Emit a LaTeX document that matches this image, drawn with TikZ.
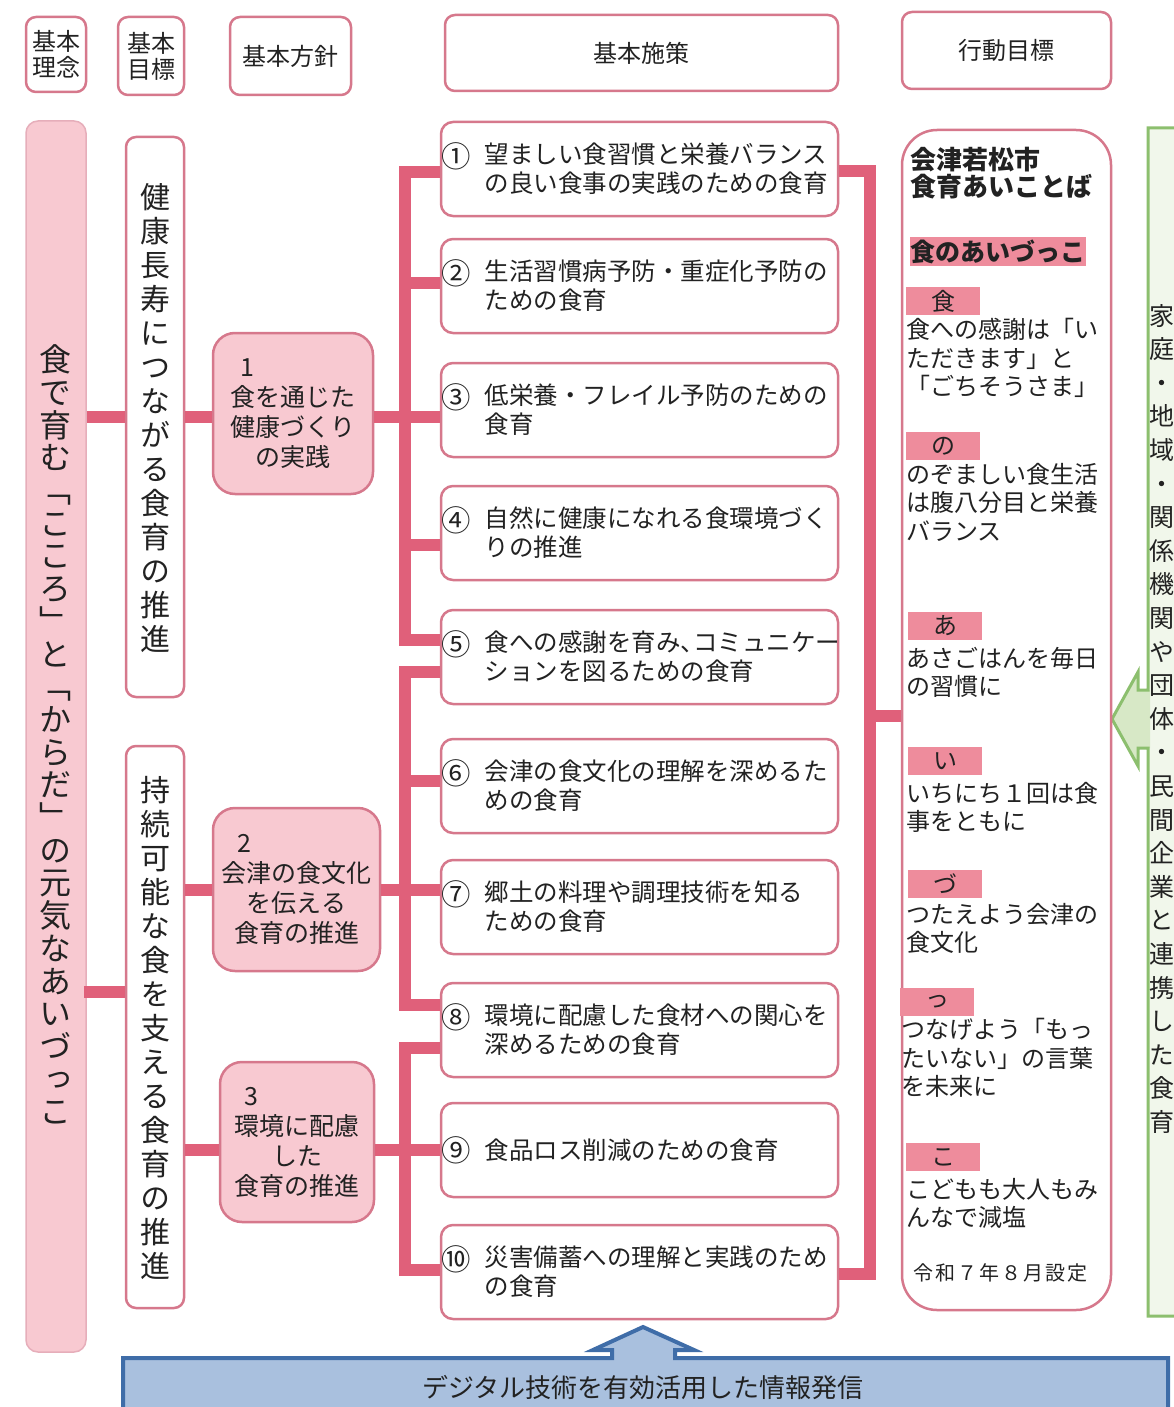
\documentclass[tikz,border=0pt]{standalone}
\usepackage{fontspec}
\setmainfont{Noto Sans CJK JP}
\newfontfamily\vjp[RawFeature=+vert]{Noto Sans CJK JP}
\usetikzlibrary{calc}
\definecolor{clc}{HTML}{E0607A}
\definecolor{pkb}{HTML}{D6788C}
\definecolor{pkf}{HTML}{F8C9D1}
\definecolor{lblc}{HTML}{EE8C9C}
\definecolor{grnb}{HTML}{8CBF6E}
\definecolor{grnf}{HTML}{F1F7EB}
\definecolor{grna}{HTML}{D7E8C6}
\definecolor{blub}{HTML}{3F6DA8}
\definecolor{bluf}{HTML}{A9C0DE}
\definecolor{txtc}{HTML}{222222}
\makeatletter
\newcommand\vtxt[2]{\vbox{\offinterlineskip\def\vt@gap{#1}\vt@loop#2\@nil}}
\def\vt@loop#1{\ifx\@nil#1\else\hbox to 1em{\hss\vrule width 0pt height .88em depth .12em\relax#1\hss}\kern\vt@gap\expandafter\vt@loop\fi}
\makeatother
\begin{document}
\begin{tikzpicture}[x=1pt,y=-1pt,
  every node/.style={text=txtc, inner sep=0pt},
  hdr/.style={draw=pkb, line width=2.5pt, rounded corners=10pt, fill=white, align=center, font=\fontsize{24}{26}\selectfont},
  sbox/.style={draw=pkb, line width=2.5pt, rounded corners=12pt, fill=white, minimum width=397pt, minimum height=94pt},
  mbox/.style={draw=pkb, line width=2.5pt, rounded corners=10pt, fill=white, minimum width=58pt},
  pol/.style={draw=pkb, line width=2.5pt, rounded corners=22pt, fill=pkf, align=center, font=\fontsize{25}{30}\selectfont},
  cl/.style={draw=clc, line width=12pt},
  num/.style={anchor=west, font=\fontsize{24.5}{24.5}\selectfont},
  stxt/.style={anchor=west, align=left, font=\fontsize{24.5}{29}\selectfont},
  lblbox/.style={fill=lblc, minimum width=74pt, minimum height=28pt, font=\fontsize{24}{24}\selectfont},
  para/.style={anchor=north west, align=left, font=\fontsize{24}{28.5}\selectfont}
]
\clip (0,0) rectangle (1174,1407);
\fill[white] (0,0) rectangle (1174,1407);

% headers
\node[hdr, minimum width=60pt, minimum height=75pt] (h1) at (56,54.5) {基本\\理念};
\node[hdr, minimum width=66pt, minimum height=78pt] (h2) at (151,56) {基本\\目標};
\node[hdr, minimum width=121pt, minimum height=78pt] (h3) at (290.5,56) {基本方針};
\node[hdr, minimum width=393pt, minimum height=76pt] (h4) at (641.5,53) {基本施策};
\node[hdr, minimum width=209pt, minimum height=77pt] (h5) at (1006.5,50.5) {行動目標};

% green box with arrow
\fill[grnf] (1190,128) -- (1148,128) -- (1148,690) -- (1138,690) -- (1138,672) -- (1112,719) -- (1138,766) -- (1138,748) -- (1148,748) -- (1148,1316) -- (1190,1316) -- cycle;
\fill[grna] (1150,690) -- (1138,690) -- (1138,672) -- (1112,719) -- (1138,766) -- (1138,748) -- (1150,748) -- cycle;
\draw[grnb, line width=3pt] (1190,128) -- (1148,128) -- (1148,690) -- (1138,690) -- (1138,672) -- (1112,719) -- (1138,766) -- (1138,748) -- (1148,748) -- (1148,1316) -- (1190,1316);
\node[font=\vjp\fontsize{25}{25}\selectfont] (gt) at (1162,723) {\vtxt{8.6pt}{家庭・地域・関係機関や団体・民間企業と連携した食育}};

% blue bar with arrow
\fill[bluf] (123,1420) -- (123,1358) -- (612,1358) -- (612,1350) -- (593,1350) -- (643,1327) -- (694,1350) -- (675,1350) -- (675,1358) -- (1168,1358) -- (1168,1420) -- cycle;
\draw[blub, line width=4pt] (123,1420) -- (123,1358) -- (612,1358) -- (612,1350) -- (593,1350) -- (643,1327) -- (694,1350) -- (675,1350) -- (675,1358) -- (1168,1358) -- (1168,1420);
\node[font=\fontsize{26}{26}\selectfont] (bt) at (643,1388) {デジタル技術を有効活用した情報発信};

% left column
\node[draw=pkb!60, line width=1.5pt, fill=pkf, rounded corners=12pt, minimum width=60pt, minimum height=1231pt] (lc) at (56,736.5) {};
\node[font=\vjp\fontsize{32}{32}\selectfont] (lct) at (55,736) {\vtxt{0.7pt}{食で育む「こころ」と「からだ」の元気なあいづっこ}};

% goal boxes
\node[mbox, minimum height=560pt] (m1) at (155,417) {};
\node[font=\vjp\fontsize{30}{30}\selectfont] (m1t) at (155,420) {\vtxt{4pt}{健康長寿につながる食育の推進}};
\node[mbox, minimum height=562pt] (m2) at (155,1027) {};
\node[font=\vjp\fontsize{30}{30}\selectfont] (m2t) at (155,1030) {\vtxt{4pt}{持続可能な食を支える食育の推進}};

% policy boxes
\node[pol, minimum width=160pt, minimum height=161pt] (p1) at (293,413.5) {\makebox[5em][l]{\hspace{0.4em}1}\\食を通じた\\健康づくり\\の実践};
\node[pol, minimum width=167pt, minimum height=163pt] (p2) at (296.5,889.5) {\makebox[5em][l]{\hspace{0.15em}2}\\会津の食文化\\を伝える\\食育の推進};
\node[pol, minimum width=154pt, minimum height=160pt] (p3) at (297,1142) {\makebox[5em][l]{\hspace{0.4em}3}\\環境に配慮\\した\\食育の推進};

% measure boxes
\node[sbox] (b1) at (639.5,169) {};
\node[sbox] (b2) at (639.5,286) {};
\node[sbox] (b3) at (639.5,410) {};
\node[sbox] (b4) at (639.5,533) {};
\node[sbox] (b5) at (639.5,657) {};
\node[sbox] (b6) at (639.5,786) {};
\node[sbox] (b7) at (639.5,907) {};
\node[sbox] (b8) at (639.5,1030) {};
\node[sbox] (b9) at (639.5,1150) {};
\node[sbox] (b10) at (639.5,1272) {};

\node[num] (b1n) at ([xshift=2pt,yshift=13pt]b1.west) {\scalebox{1.2}{①}};
\node[stxt] (b1t) at ([xshift=45pt]b1.west) {望ましい食習慣と栄養バランス\\の良い食事の実践のための食育};
\node[num] (b2n) at ([xshift=2pt,yshift=13pt]b2.west) {\scalebox{1.2}{②}};
\node[stxt] (b2t) at ([xshift=45pt]b2.west) {生活習慣病予防・重症化予防の\\ための食育};
\node[num] (b3n) at ([xshift=2pt,yshift=13pt]b3.west) {\scalebox{1.2}{③}};
\node[stxt] (b3t) at ([xshift=45pt]b3.west) {低栄養・フレイル予防のための\\食育};
\node[num] (b4n) at ([xshift=2pt,yshift=13pt]b4.west) {\scalebox{1.2}{④}};
\node[stxt] (b4t) at ([xshift=45pt]b4.west) {自然に健康になれる食環境づく\\りの推進};
\node[num] (b5n) at ([xshift=2pt,yshift=13pt]b5.west) {\scalebox{1.2}{⑤}};
\node[stxt] (b5t) at ([xshift=45pt]b5.west) {食への感謝を育み、\kern-0.5em コミュニケー\\ションを図るための食育};
\node[num] (b6n) at ([xshift=2pt,yshift=13pt]b6.west) {\scalebox{1.2}{⑥}};
\node[stxt] (b6t) at ([xshift=45pt]b6.west) {会津の食文化の理解を深めるた\\めの食育};
\node[num] (b7n) at ([xshift=2pt,yshift=13pt]b7.west) {\scalebox{1.2}{⑦}};
\node[stxt] (b7t) at ([xshift=45pt]b7.west) {郷土の料理や調理技術を知る\\ための食育};
\node[num] (b8n) at ([xshift=2pt,yshift=13pt]b8.west) {\scalebox{1.2}{⑧}};
\node[stxt] (b8t) at ([xshift=45pt]b8.west) {環境に配慮した食材への関心を\\深めるための食育};
\node[num] (b9n) at ([xshift=2pt]b9.west) {\scalebox{1.2}{⑨}};
\node[stxt] (b9t) at ([xshift=45pt]b9.west) {食品ロス削減のための食育};
\node[num] (b10n) at ([xshift=2pt,yshift=13pt]b10.west) {\scalebox{1.2}{⑩}};
\node[stxt] (b10t) at ([xshift=45pt]b10.west) {災害備蓄への理解と実践のため\\の食育};

% action column
\node[draw=pkb, line width=2.5pt, fill=white, rounded corners=35pt, minimum width=209pt, minimum height=1180pt] (ac) at (1006.5,720) {};
\node[para, font=\bfseries\fontsize{26}{27}\selectfont] (a0) at (910,147) {会津若松市\\食育あいことば};
\node[fill=lblc, minimum width=176pt, minimum height=29pt, font=\bfseries\fontsize{25}{25}\selectfont] (a1) at (998,251.5) {食のあいづっこ};

\node[lblbox] (l1) at (943,301) {\raisebox{-2pt}{食}};
\node[para] (t1) at (906,318) {食への感謝は「い\\ただきます」と\\「ごちそうさま」};
\node[lblbox] (l2) at (943,446) {\raisebox{-2pt}{の}};
\node[para] (t2) at (906,463) {のぞましい食生活\\は腹八分目と栄養\\バランス};
\node[lblbox] (l3) at (945,626) {\raisebox{-2pt}{あ}};
\node[para] (t3) at (906,647) {あさごはんを毎日\\の習慣に};
\node[lblbox] (l4) at (945,761) {\raisebox{-2pt}{い}};
\node[para] (t4) at (906,782) {いちにち１回は食\\事をともに};
\node[lblbox] (l5) at (945,884) {\raisebox{-2pt}{づ}};
\node[para] (t5) at (906,903) {つたえよう会津の\\食文化};
\node[lblbox] (l6) at (937,1002) {\raisebox{-2pt}{っ}};
\node[para] (t6) at (901,1018) {つなげよう「もっ\\たいない」の言葉\\を未来に};
\node[lblbox] (l7) at (943,1157) {\raisebox{-2pt}{こ}};
\node[para] (t7) at (906,1178) {こどもも大人もみ\\んなで減塩};
\node[anchor=north west, font=\fontsize{20}{20}\selectfont] (dt) at (913,1263) {令\kern2pt 和\kern2pt ７\kern2pt 年\kern2pt ８\kern2pt 月\kern2pt 設\kern2pt 定};

% connectors
\draw[cl] (lc.east |- m1.west) -- (m1.west);
\draw[cl] (m1.east) -- (p1.west |- m1.east);
\draw[cl] (p1.east |- m1.east) -- (b3.west |- m1.east);
\draw[cl] ([yshift=-3pt]b1.west) -- ++(-35,0) |- ([yshift=17pt]b5.west);
\draw[cl] ([yshift=3pt]b2.west) -- ++(-35,0);
\draw[cl] ([yshift=-12pt]b4.west) -- ++(-35,0);

\draw[cl] ([yshift=35pt]m2.west) -- ++(-41,0);
\draw[cl] (m2.east |- p2.west) -- (p2.west);
\draw[cl] (p2.east) -- (b7.west |- p2.east);
\draw[cl] ([yshift=-15pt]b5.west) -- ++(-35,0) |- ([yshift=25pt]b8.west);
\draw[cl] ([yshift=5pt]b6.west) -- ++(-35,0);

\draw[cl] (m2.east |- b9.west) -- (p3.west |- b9.west);
\draw[cl] (p3.east |- b9.west) -- (b9.west);
\draw[cl] ([yshift=-18pt]b8.west) -- ++(-35,0) |- ([yshift=2pt]b10.west);

\draw[cl] ([yshift=-2pt]b1.east) -- ++(31,0) |- ([yshift=-2pt]b10.east);
\draw[cl] ([yshift=4pt]ac.west) -- ++(-34,0);
\end{tikzpicture}
\end{document}
